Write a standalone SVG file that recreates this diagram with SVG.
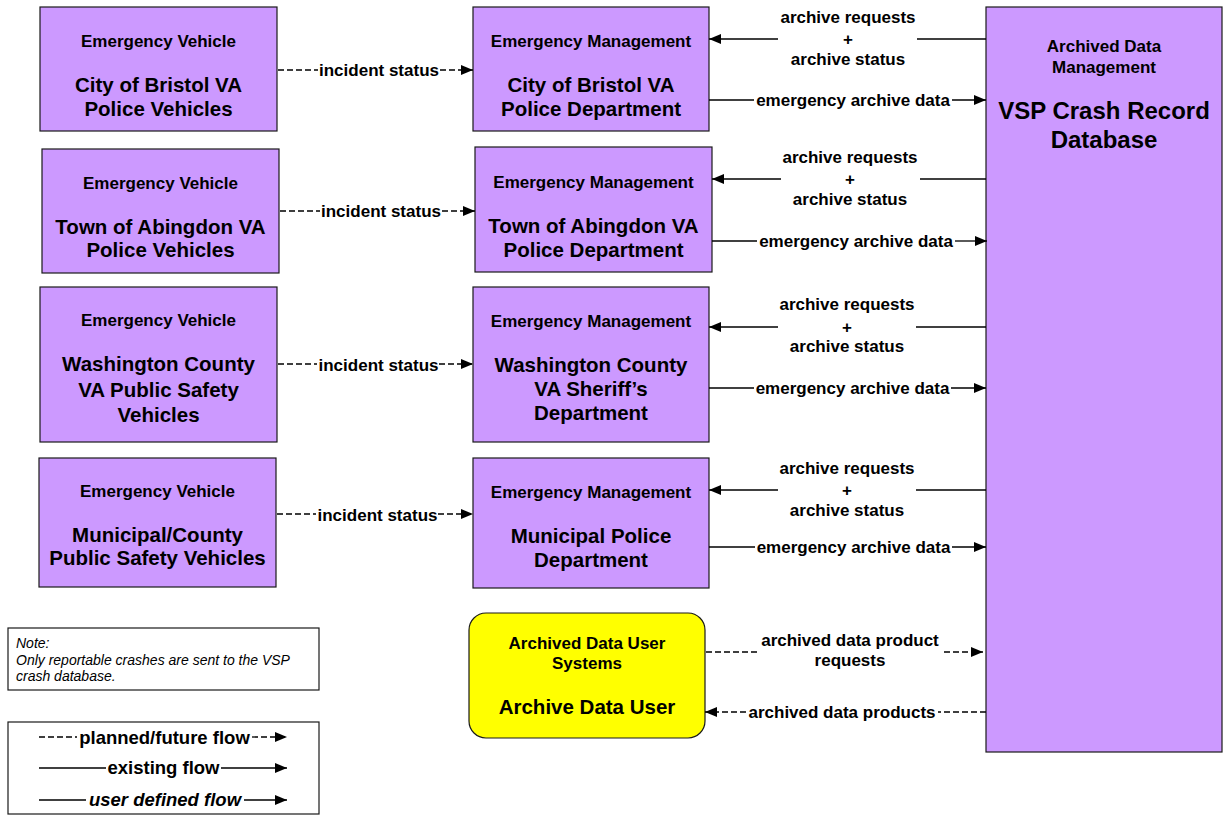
<svg xmlns="http://www.w3.org/2000/svg" width="1225" height="824" viewBox="0 0 1225 824">
  <style>
    .box { fill: #CC99FF; stroke: #1a1a1a; stroke-width: 1.2; }
    .user { fill: #FFFF00; stroke: #1a1a1a; stroke-width: 1.2; }
    .plain { fill: #FFFFFF; stroke: #1a1a1a; stroke-width: 1.2; }
    text { font-family: "Liberation Sans", Arial, sans-serif; fill: #000; text-anchor: middle; }
    .cls { font-size: 17px; font-weight: bold; }
    .name { font-size: 20.5px; font-weight: bold; }
    .big { font-size: 24px; font-weight: bold; }
    .lbl { font-size: 17px; font-weight: bold; }
    .leg { font-size: 18.5px; font-weight: bold; }
    .note { font-size: 14px; font-style: italic; text-anchor: start; }
    .solid { stroke: #000; stroke-width: 1.3; fill: none; }
    .dash { stroke: #000; stroke-width: 1.3; fill: none; stroke-dasharray: 6 3; }
  </style>
  <defs>
    <marker id="arrow" markerUnits="userSpaceOnUse" markerWidth="12" markerHeight="10" refX="12" refY="5" orient="auto">
      <path d="M0,0 L12,5 L0,10 z" fill="#000"/>
    </marker>
  </defs>

  <!-- Emergency vehicles -->
  <g id="ev-bristol">
    <rect class="box" x="40" y="7" width="237" height="124"/>
    <text class="cls" x="158.5" y="47">Emergency Vehicle</text>
    <text class="name" x="158.5" y="92">City of Bristol VA</text>
    <text class="name" x="158.5" y="115.5">Police Vehicles</text>
  </g>
  <g id="ev-abingdon">
    <rect class="box" x="42" y="149" width="237" height="124"/>
    <text class="cls" x="160.5" y="189">Emergency Vehicle</text>
    <text class="name" x="160.5" y="233.5">Town of Abingdon VA</text>
    <text class="name" x="160.5" y="257">Police Vehicles</text>
  </g>
  <g id="ev-washington">
    <rect class="box" x="40" y="287" width="237" height="155"/>
    <text class="cls" x="158.5" y="326">Emergency Vehicle</text>
    <text class="name" x="158.5" y="371">Washington County</text>
    <text class="name" x="158.5" y="396.5">VA Public Safety</text>
    <text class="name" x="158.5" y="422">Vehicles</text>
  </g>
  <g id="ev-municipal">
    <rect class="box" x="39" y="458" width="237" height="129"/>
    <text class="cls" x="157.5" y="496.5">Emergency Vehicle</text>
    <text class="name" x="157.5" y="541.5">Municipal/County</text>
    <text class="name" x="157.5" y="565">Public Safety Vehicles</text>
  </g>

  <!-- Emergency management centers -->
  <g id="em-bristol">
    <rect class="box" x="473" y="7" width="236" height="124"/>
    <text class="cls" x="591" y="47">Emergency Management</text>
    <text class="name" x="591" y="92">City of Bristol VA</text>
    <text class="name" x="591" y="115.5">Police Department</text>
  </g>
  <g id="em-abingdon">
    <rect class="box" x="475" y="147" width="237" height="125"/>
    <text class="cls" x="593.5" y="187.5">Emergency Management</text>
    <text class="name" x="593.5" y="232.5">Town of Abingdon VA</text>
    <text class="name" x="593.5" y="256.5">Police Department</text>
  </g>
  <g id="em-washington">
    <rect class="box" x="473" y="287" width="236" height="155"/>
    <text class="cls" x="591" y="326.5">Emergency Management</text>
    <text class="name" x="591" y="371.5">Washington County</text>
    <text class="name" x="591" y="395.5">VA Sheriff’s</text>
    <text class="name" x="591" y="419.5">Department</text>
  </g>
  <g id="em-municipal">
    <rect class="box" x="473" y="458" width="236" height="130"/>
    <text class="cls" x="591" y="497.5">Emergency Management</text>
    <text class="name" x="591" y="543">Municipal Police</text>
    <text class="name" x="591" y="566.5">Department</text>
  </g>

  <!-- Archive -->
  <g id="adm-vsp">
    <rect class="box" x="986" y="7" width="236" height="745"/>
    <text class="cls" x="1104" y="51.5">Archived Data</text>
    <text class="cls" x="1104" y="73">Management</text>
    <text class="big" x="1104" y="119">VSP Crash Record</text>
    <text class="big" x="1104" y="148">Database</text>
  </g>
  <g id="adu-user">
    <rect class="user" x="469" y="613" width="236" height="125" rx="17" ry="17"/>
    <text class="cls" x="587" y="649">Archived Data User</text>
    <text class="cls" x="587" y="668.5">Systems</text>
    <text class="name" x="587" y="713.5">Archive Data User</text>
  </g>

  <!-- Note and legend -->
  <g id="note">
    <rect class="plain" x="8" y="628" width="311" height="62"/>
    <text class="note" x="16" y="648">Note:</text>
    <text class="note" x="16" y="664.5">Only reportable crashes are sent to the VSP</text>
    <text class="note" x="16" y="681">crash database.</text>
  </g>
  <g id="legend">
    <rect class="plain" x="8" y="722" width="311" height="92"/>
    <line class="dash" x1="39" y1="737" x2="77" y2="737"/>
    <text class="leg" x="164.5" y="743.5">planned/future flow</text>
    <line class="dash" x1="252" y1="737" x2="287" y2="737" marker-end="url(#arrow)"/>
    <line class="solid" x1="39" y1="768" x2="106" y2="768"/>
    <text class="leg" x="163.5" y="774">existing flow</text>
    <line class="solid" x1="221" y1="768" x2="287" y2="768" marker-end="url(#arrow)"/>
    <line class="solid" x1="39" y1="800" x2="86" y2="800"/>
    <text class="leg" x="165" y="806" font-style="italic">user defined flow</text>
    <line class="solid" x1="244" y1="800" x2="287" y2="800" marker-end="url(#arrow)"/>
  </g>

  <!-- Flows -->
  <g id="connectors">
    <!-- incident status: vehicle to management -->
    <line class="dash" x1="278" y1="70" x2="318" y2="70"/>
    <line class="dash" x1="440" y1="70" x2="473" y2="70" marker-end="url(#arrow)"/>
    <text class="lbl" x="379" y="76">incident status</text>

    <line class="dash" x1="280" y1="211" x2="320" y2="211"/>
    <line class="dash" x1="442" y1="211" x2="475" y2="211" marker-end="url(#arrow)"/>
    <text class="lbl" x="381" y="217">incident status</text>

    <line class="dash" x1="278" y1="364" x2="317" y2="364"/>
    <line class="dash" x1="439" y1="364" x2="473" y2="364" marker-end="url(#arrow)"/>
    <text class="lbl" x="378.5" y="370.5">incident status</text>

    <line class="dash" x1="277" y1="514" x2="316" y2="514"/>
    <line class="dash" x1="438" y1="514" x2="473" y2="514" marker-end="url(#arrow)"/>
    <text class="lbl" x="377.5" y="520.5">incident status</text>

    <!-- archive requests + archive status: archive to management -->
    <line class="solid" x1="986" y1="39" x2="917" y2="39"/>
    <line class="solid" x1="778" y1="39" x2="709" y2="39" marker-end="url(#arrow)"/>
    <text class="lbl" x="848" y="22.5">archive requests</text>
    <text class="lbl" x="848" y="44.5">+</text>
    <text class="lbl" x="848" y="65">archive status</text>

    <line class="solid" x1="986" y1="179" x2="920" y2="179"/>
    <line class="solid" x1="781" y1="179" x2="712" y2="179" marker-end="url(#arrow)"/>
    <text class="lbl" x="850" y="162.5">archive requests</text>
    <text class="lbl" x="850" y="184.5">+</text>
    <text class="lbl" x="850" y="205">archive status</text>

    <line class="solid" x1="986" y1="327" x2="916" y2="327"/>
    <line class="solid" x1="778" y1="327" x2="709" y2="327" marker-end="url(#arrow)"/>
    <text class="lbl" x="847" y="310">archive requests</text>
    <text class="lbl" x="847" y="332.5">+</text>
    <text class="lbl" x="847" y="352">archive status</text>

    <line class="solid" x1="986" y1="490" x2="916" y2="490"/>
    <line class="solid" x1="778" y1="490" x2="709" y2="490" marker-end="url(#arrow)"/>
    <text class="lbl" x="847" y="473.5">archive requests</text>
    <text class="lbl" x="847" y="495.5">+</text>
    <text class="lbl" x="847" y="516">archive status</text>

    <!-- emergency archive data: management to archive -->
    <line class="solid" x1="709" y1="100" x2="754" y2="100"/>
    <line class="solid" x1="952" y1="100" x2="986" y2="100" marker-end="url(#arrow)"/>
    <text class="lbl" x="853" y="106">emergency archive data</text>

    <line class="solid" x1="712" y1="241" x2="757" y2="241"/>
    <line class="solid" x1="955" y1="241" x2="987" y2="241" marker-end="url(#arrow)"/>
    <text class="lbl" x="856" y="247">emergency archive data</text>

    <line class="solid" x1="709" y1="388" x2="754" y2="388"/>
    <line class="solid" x1="951" y1="388" x2="986" y2="388" marker-end="url(#arrow)"/>
    <text class="lbl" x="852.5" y="394">emergency archive data</text>

    <line class="solid" x1="709" y1="547" x2="755" y2="547"/>
    <line class="solid" x1="952" y1="547" x2="986" y2="547" marker-end="url(#arrow)"/>
    <text class="lbl" x="853.5" y="553">emergency archive data</text>

    <!-- archived data product requests / products -->
    <line class="dash" x1="706" y1="652" x2="758" y2="652"/>
    <line class="dash" x1="944" y1="652" x2="983" y2="652" marker-end="url(#arrow)"/>
    <text class="lbl" x="850" y="645.5">archived data product</text>
    <text class="lbl" x="850" y="665.5">requests</text>

    <line class="dash" x1="986" y1="712" x2="938" y2="712"/>
    <line class="dash" x1="746" y1="712" x2="705" y2="712" marker-end="url(#arrow)"/>
    <text class="lbl" x="842" y="718">archived data products</text>
  </g>
</svg>
